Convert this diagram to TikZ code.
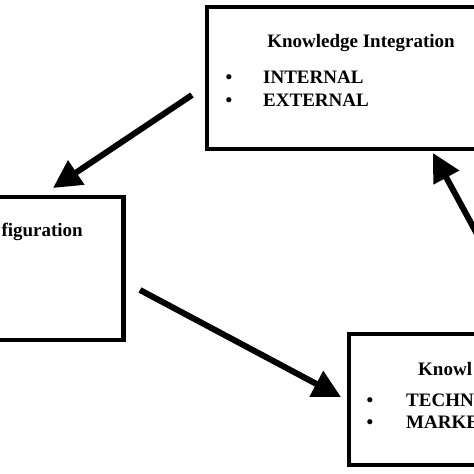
\documentclass[tikz,border=0pt]{standalone}
\usepackage{fontspec}
\setmainfont{Liberation Serif}
\usetikzlibrary{arrows.meta, positioning}
\tikzset{>={Triangle[length=28pt,width=28pt]}}
\tikzset{
	box/.style={draw, line width=4.5pt, rectangle, inner sep=0pt, outer sep=0pt},
	lbl/.style={inner sep=0pt, font=\fontsize{19}{22}\selectfont\bfseries},
	flow/.style={->, line width=6pt}
}
\begin{document}
\begin{tikzpicture}[x=1pt, y=-1pt]
		\useasboundingbox (0,0) rectangle (474,474);
		\node[box, minimum width=333pt, minimum height=142pt] (integ) at (373.5,78) {};
		\node[box, minimum width=183.5pt, minimum height=143pt] (config) at (31.75,268.5) {};
		\node[box, minimum width=191pt, minimum height=131pt] (creat) at (444.5,399.5) {};
		\node[lbl, anchor=base] (integT) at (361,47) {Knowledge Integration};
		\node[lbl, anchor=base] (b1) at (229,83) {\textbullet};
		\node[lbl, anchor=base] (b2) at (229,106) {\textbullet};
		\node[lbl, anchor=base west] (intl) at (263,83) {INTERNAL};
		\node[lbl, anchor=base west] (extl) at (263,106) {EXTERNAL};
		\node[lbl, anchor=base east] (configT) at (83,236) {figuration};
		\node[lbl, anchor=base west] (creatT) at (418,375) {Knowl};
		\node[lbl, anchor=base] (b3) at (370,406) {\textbullet};
		\node[lbl, anchor=base] (b4) at (370,428) {\textbullet};
		\node[lbl, anchor=base west] (tech) at (406,406) {TECHN};
		\node[lbl, anchor=base west] (mark) at (406,428) {MARKE};
		\coordinate (a1s) at (192,95);   \coordinate (a1e) at (53,188);
		\coordinate (a2s) at (140,290);  \coordinate (a2e) at (341,397);
		\coordinate (a3s) at (502,280);  \coordinate (a3e) at (433,153);
		\draw [flow] (a1s)--(a1e);
		\draw [flow] (a2s)--(a2e);
		\draw [flow] (a3s)--(a3e);
\end{tikzpicture}
\end{document}
